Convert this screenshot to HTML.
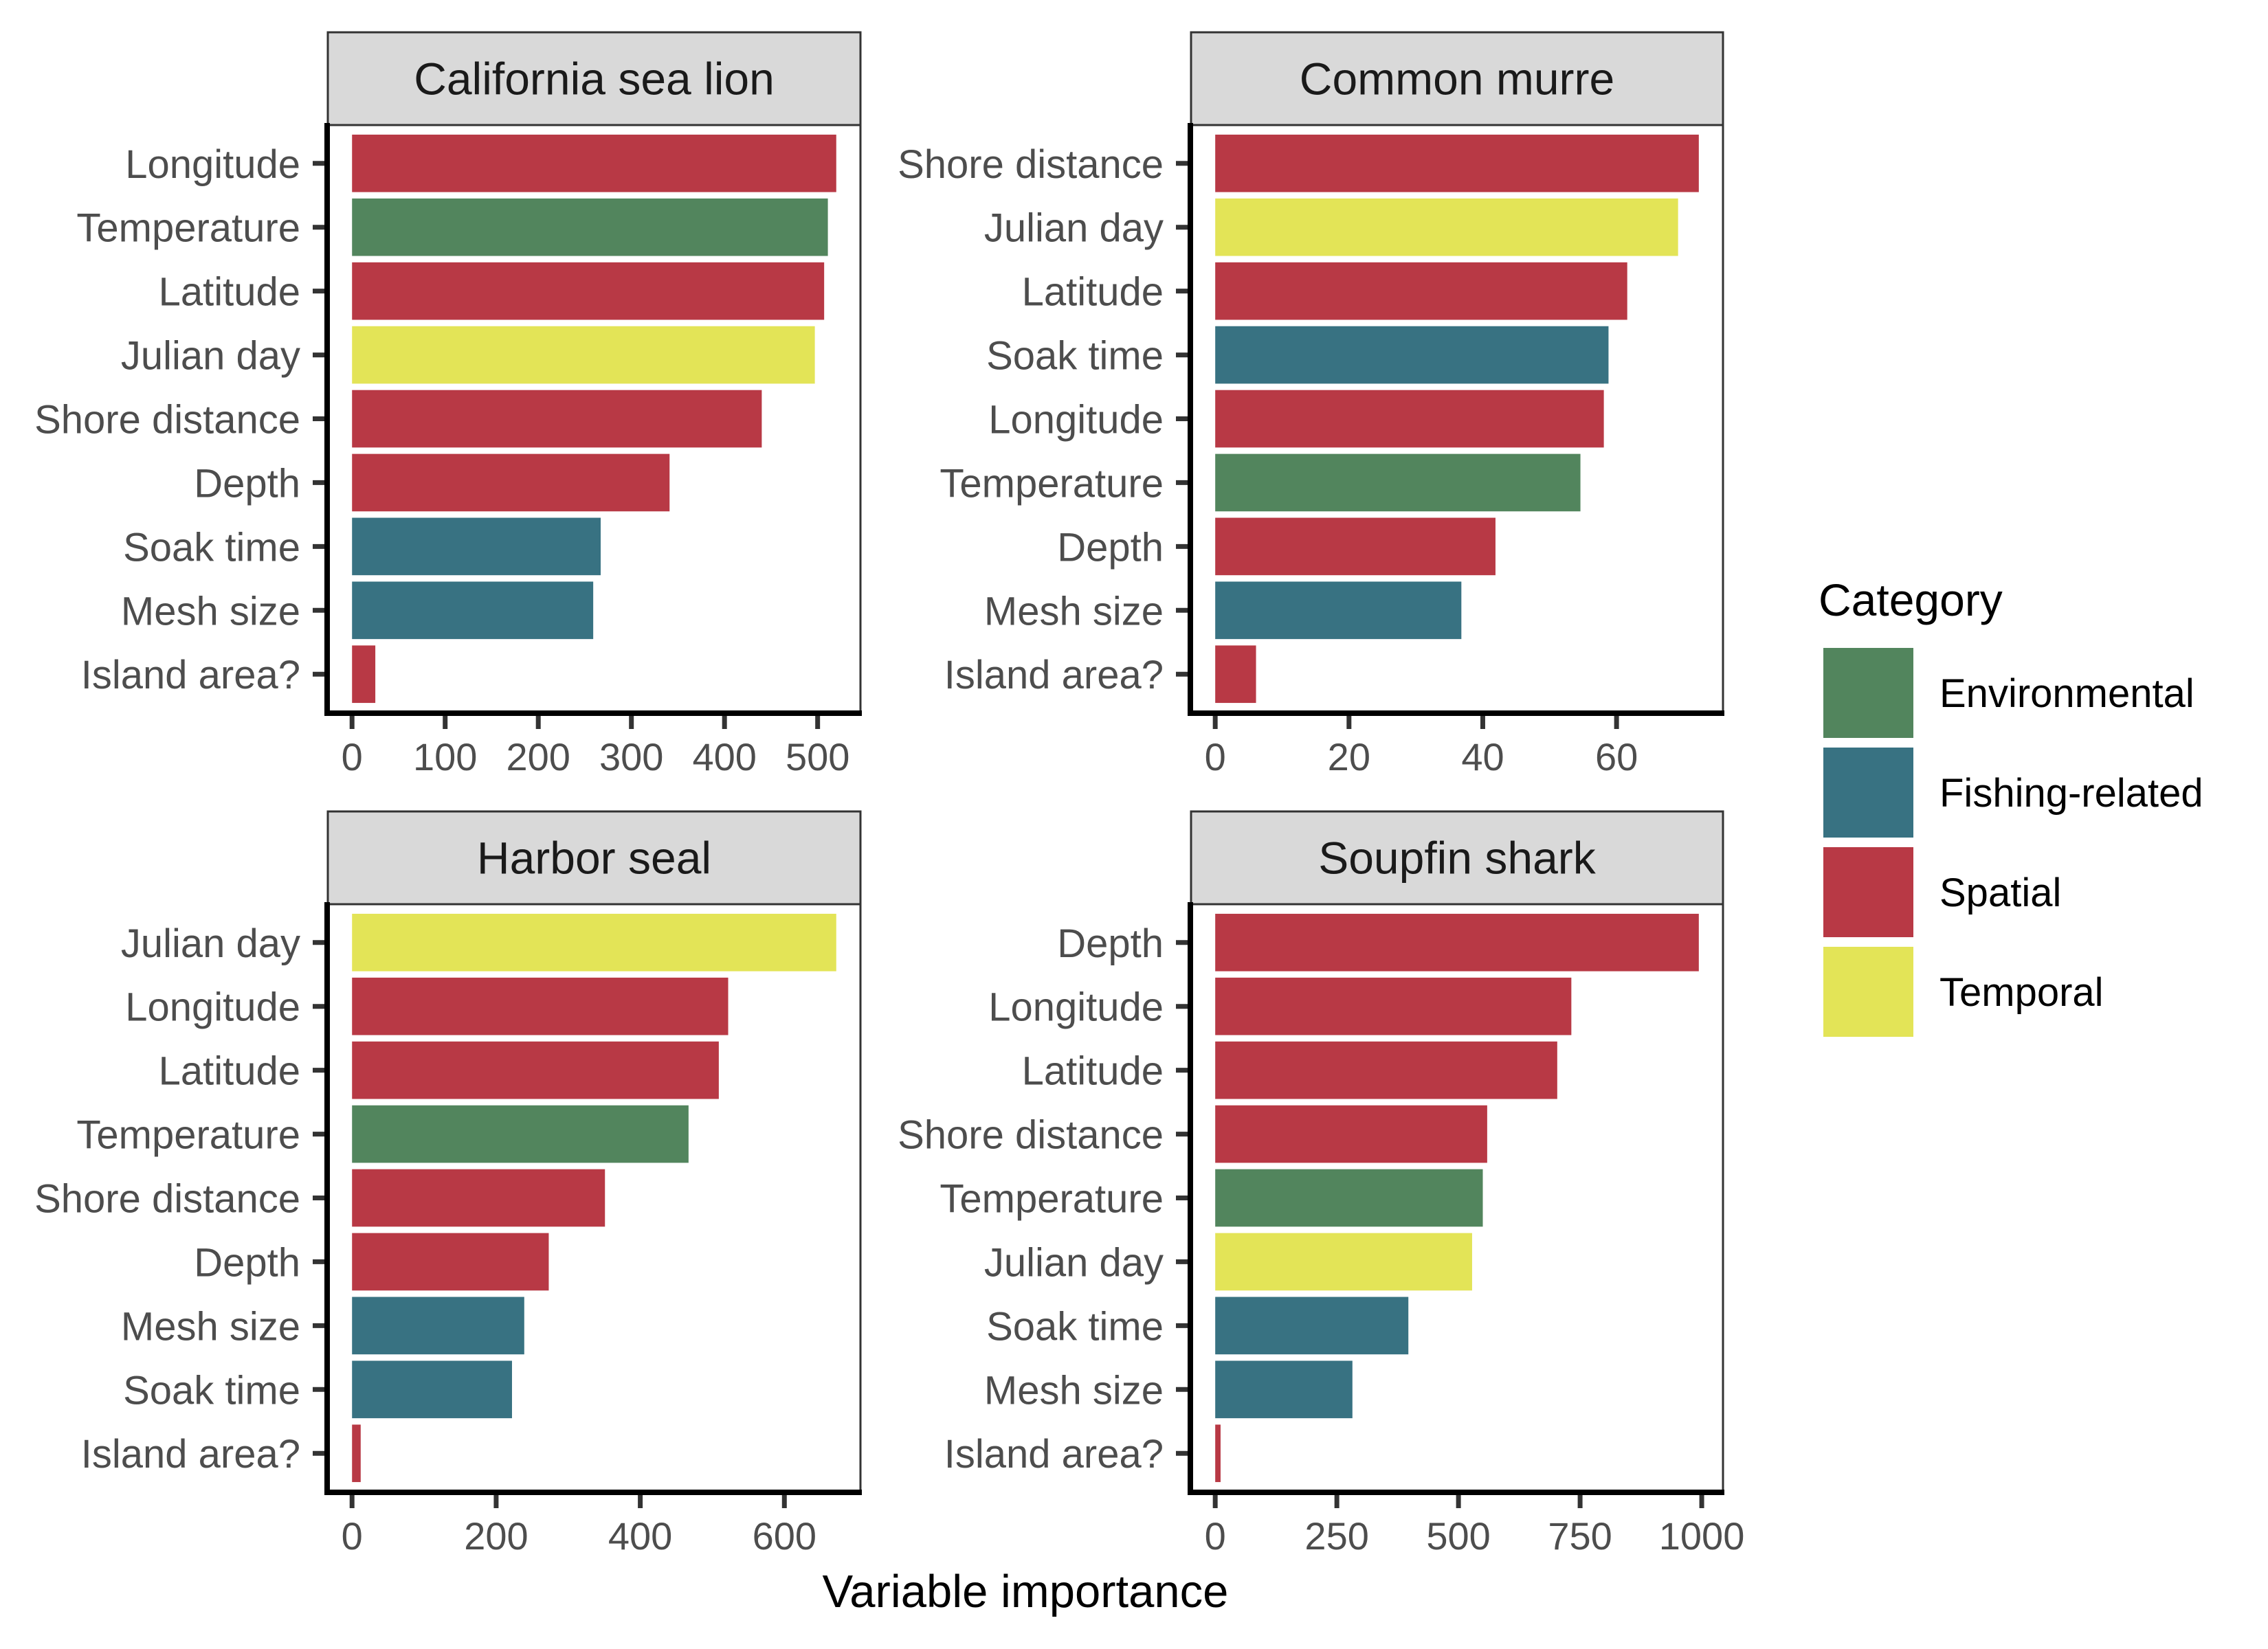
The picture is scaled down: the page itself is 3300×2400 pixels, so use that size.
<!DOCTYPE html>
<html><head><meta charset="utf-8">
<style>
html,body{margin:0;padding:0;background:#fff;}
svg{display:block;font-family:"Liberation Sans",Arial,sans-serif;}
</style></head>
<body>
<svg id="chart" width="3300" height="2400" viewBox="0 0 3300 2400" xmlns="http://www.w3.org/2000/svg">
<rect x="0" y="0" width="3300" height="2400" fill="#fff"/>
<g id="panels"></g>
<text x="1492" y="2339" font-size="67" text-anchor="middle" fill="#000">Variable importance</text>
<g>
<text x="2646" y="896" font-size="66" fill="#000">Category</text>
<g id="legend-items"></g>
</g>
</svg>
<script>
const colors = {Environmental:"#52855d","Fishing-related":"#387282",Spatial:"#b83945",Temporal:"#e3e457"};
const legendCats = ["Environmental","Fishing-related","Spatial","Temporal"];

const slLabels = ["Longitude","Temperature","Latitude","Julian day","Shore distance","Depth","Soak time","Mesh size","Island area?"];
const slValues = [520,511,507,497,440,341,267,259,25];
const slCats = ["Spatial","Environmental","Spatial","Temporal","Spatial","Spatial","Fishing-related","Fishing-related","Spatial"];
const slTicks = [0,100,200,300,400,500];

const cmLabels = ["Shore distance","Julian day","Latitude","Soak time","Longitude","Temperature","Depth","Mesh size","Island area?"];
const cmValues = [72.3,69.2,61.6,58.8,58.1,54.6,41.9,36.8,6.1];
const cmCats = ["Spatial","Temporal","Spatial","Fishing-related","Spatial","Environmental","Spatial","Fishing-related","Spatial"];
const cmTicks = [0,20,40,60];

const hsLabels = ["Julian day","Longitude","Latitude","Temperature","Shore distance","Depth","Mesh size","Soak time","Island area?"];
const hsValues = [672,522,509,467,351,273,239,222,12];
const hsCats = ["Temporal","Spatial","Spatial","Environmental","Spatial","Spatial","Fishing-related","Fishing-related","Spatial"];
const hsTicks = [0,200,400,600];

const ssLabels = ["Depth","Longitude","Latitude","Shore distance","Temperature","Julian day","Soak time","Mesh size","Island area?"];
const ssValues = [994,732,703,559,550,528,397,282,11];
const ssCats = ["Spatial","Spatial","Spatial","Spatial","Environmental","Temporal","Fishing-related","Fishing-related","Spatial"];
const ssTicks = [0,250,500,750,1000];

const NS="http://www.w3.org/2000/svg";
function mk(tag, attrs, parent){const e=document.createElementNS(NS,tag);for(const k in attrs)e.setAttribute(k,attrs[k]);parent.appendChild(e);return e;}

function panel(name, title, labels, values, cats, ticks, x0, x1, top, dmax){
  const root=document.getElementById('panels');
  const g=mk('g',{},root);
  
  
  const stripTop=top, stripBot=top+135, pTop=stripBot, pBot=pTop+855;
  const s=mk('rect',{x:x0,y:stripTop,width:x1-x0,height:stripBot-stripTop,fill:"#d9d9d9",stroke:"#333","stroke-width":3},g);
  
  
  const st=mk('text',{x:(x0+x1)/2,y:(stripTop+stripBot)/2+23,"font-size":66,"text-anchor":"middle",fill:"#1a1a1a"},g);
  st.textContent=title;
  
  
  mk('rect',{x:x0,y:pTop,width:x1-x0,height:pBot-pTop,fill:"#fff",stroke:"#333","stroke-width":3},g);
  const lo=-0.05*dmax, hi=dmax*1.05;
  const xs=v=>x0+(v-lo)/(hi-lo)*(x1-x0);
  const n=labels.length;
  const pitch=(pBot-pTop)/(n+0.2);
  const yc=i=>pTop+pitch*(0.6+i);
  const bh=pitch*0.9;
  for(let i=0;i<n;i++){
    const r=mk('rect',{x:xs(0),y:yc(i)-bh/2,width:xs(values[i])-xs(0),height:bh,fill:colors[cats[i]]},g);
    
    
    mk('line',{x1:x0-22,x2:x0,y1:yc(i),y2:yc(i),stroke:"#333","stroke-width":7},g);
    const t=mk('text',{x:x0-40,y:yc(i)+21,"font-size":58,"text-anchor":"end",fill:"#4d4d4d"},g);
    t.textContent=labels[i];
    
    
  }
  ticks.forEach(v=>{
    mk('line',{x1:xs(v),x2:xs(v),y1:pBot,y2:pBot+24,stroke:"#333","stroke-width":7},g);
    const t=mk('text',{x:xs(v),y:pBot+84,"font-size":56,"text-anchor":"middle",fill:"#4d4d4d"},g);
    t.textContent=v;
    
    
  });
  mk('line',{x1:x0-1,x2:x0-1,y1:pTop-3,y2:pBot+4,stroke:"#000","stroke-width":8},g);
  mk('line',{x1:x0-5,x2:x1+2,y1:pBot+1,y2:pBot+1,stroke:"#000","stroke-width":8},g);
}
panel('california-sea-lion','California sea lion',slLabels,slValues,slCats,slTicks,477,1252,47,Math.max(...slValues));
panel('common-murre','Common murre',cmLabels,cmValues,cmCats,cmTicks,1733,2507,47,Math.max(...cmValues));
panel('harbor-seal','Harbor seal',hsLabels,hsValues,hsCats,hsTicks,477,1252,1181,Math.max(...hsValues));
panel('soupfin-shark','Soupfin shark',ssLabels,ssValues,ssCats,ssTicks,1733,2507,1181,Math.max(...ssValues));

const lg=document.getElementById('legend-items');
legendCats.forEach((c,i)=>{
  const y=943+i*145;
  const r=mk('rect',{x:2653,y:y,width:131,height:131,fill:colors[c]},lg);
  
  
  const t=mk('text',{x:2822,y:y+86,"font-size":58,fill:"#000"},lg);
  t.textContent=c;
  
  
});
</script>
</body></html>
